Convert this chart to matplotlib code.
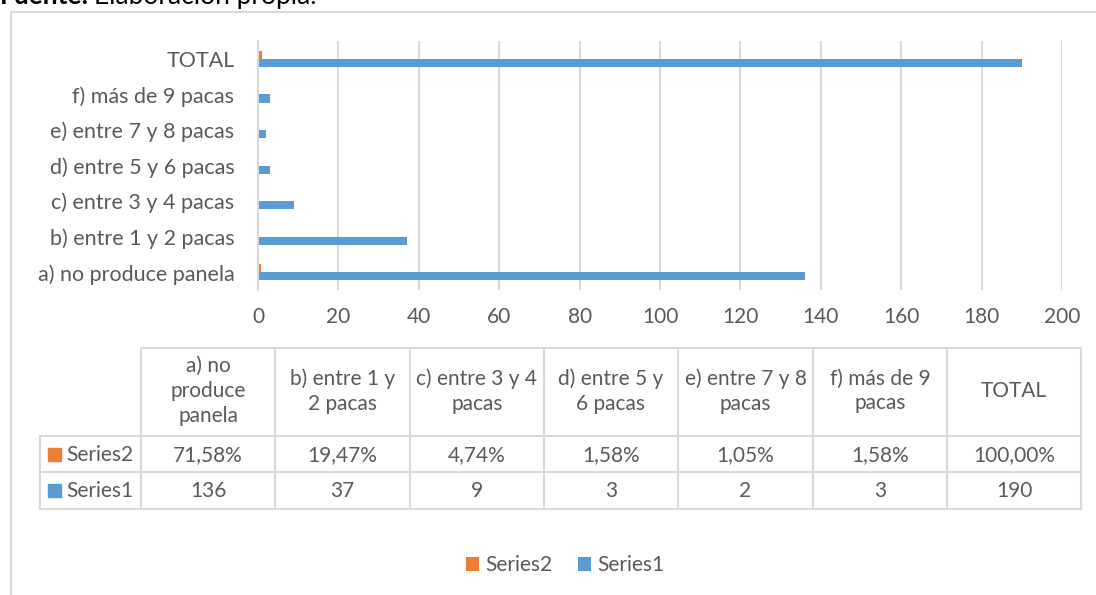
import matplotlib.pyplot as plt
import numpy as np

plt.rcParams['font.family'] = ['Lato', 'DejaVu Sans']

# data
categories = ['a) no produce panela', 'b) entre 1 y 2 pacas', 'c) entre 3 y 4 pacas',
              'd) entre 5 y 6 pacas', 'e) entre 7 y 8 pacas', 'f) más de 9 pacas', 'TOTAL']
header_labels = ['a) no\nproduce\npanela', 'b) entre 1 y\n2 pacas', 'c) entre 3 y 4\npacas',
                 'd) entre 5 y\n6 pacas', 'e) entre 7 y 8\npacas', 'f) más de 9\npacas', 'TOTAL']
series1 = [136, 37, 9, 3, 2, 3, 190]
series2 = [0.7158, 0.1947, 0.0474, 0.0158, 0.0105, 0.0158, 1.0]
series2_labels = ['71,58%', '19,47%', '4,74%', '1,58%', '1,05%', '1,58%', '100,00%']
xticks = [0, 20, 40, 60, 80, 100, 120, 140, 160, 180, 200]

blue = '#5B9BD5'
orange = '#ED7D31'
text_col = '#595959'
grid_col = '#D9D9D9'
fs = 15

W, H = 1096, 595
fig = plt.figure(figsize=(W / 100, H / 100), dpi=100)

# overlay in pixel coords for frame, table and source note
ov = fig.add_axes([0, 0, 1, 1])
ov.set_xlim(0, W)
ov.set_ylim(H, 0)
ov.axis('off')

# chart frame (runs off the right and bottom edge)
ov.plot([11, 11, W + 5], [H + 5, 12, 12], color=grid_col, lw=1.5)

# source note, cut by the top edge as in the original page crop
ov.text(0, 4, 'Fuente:', fontsize=19, fontweight='bold', color='black', va='baseline')
ov.text(94, 4, 'Elaboración propia.', fontsize=19, color='black', va='baseline')

# bar chart
ax = fig.add_axes([258 / W, 1 - 290 / H, (1062 - 258) / W, (290 - 41) / H])
y = np.arange(len(categories))
h = 0.23
b1 = ax.barh(y - h / 2, series1, height=h, color=blue, label='Series1')
b2 = ax.barh(y + h / 2, series2, height=h, color=orange, label='Series2')
ax.set_ylim(-0.5, len(categories) - 0.5)
ax.set_xlim(0, 200)
ax.set_xticks(xticks)
ax.set_yticks(y)
ax.set_yticklabels(categories)
ax.tick_params(axis='both', length=0, labelsize=fs, colors=text_col)
ax.tick_params(axis='y', labelsize=15.5, pad=17)
ax.tick_params(axis='x', pad=12)
ax.grid(axis='x', color=grid_col, lw=1.5)
ax.set_axisbelow(True)
for s in ['top', 'right', 'bottom']:
    ax.spines[s].set_visible(False)
ax.spines['left'].set_color(grid_col)
ax.spines['left'].set_linewidth(1.5)

# data table
col_edges = [40, 141, 275, 410, 544, 678, 813, 947, 1081]
row_edges = [348, 436, 472, 509]
lk = dict(color=grid_col, lw=1.5)
ov.plot([141, 1081], [348, 348], **lk)
for r in row_edges[1:]:
    ov.plot([40, 1081], [r, r], **lk)
ov.plot([40, 40], [436, 509], **lk)
for c in col_edges[1:]:
    ov.plot([c, c], [348, 509], **lk)

for i, lab in enumerate(header_labels):
    cx = (col_edges[i + 1] + col_edges[i + 2]) / 2
    ov.text(cx, 391, lab, ha='center', va='center', fontsize=fs, color=text_col, linespacing=1.3)
    ov.text(cx, 455, series2_labels[i], ha='center', va='center', fontsize=fs, color=text_col)
    ov.text(cx, 491, str(series1[i]), ha='center', va='center', fontsize=fs, color=text_col)

for yy, col, name in [(455, orange, 'Series2'), (491, blue, 'Series1')]:
    ov.add_patch(plt.Rectangle((48, yy - 7), 13, 13, color=col))
    ov.text(66, yy, name, va='center', fontsize=fs, color=text_col)

fig.legend([b2, b1], ['Series2', 'Series1'], loc='center', bbox_to_anchor=(565 / W, 1 - 565 / H),
           ncol=2, frameon=False, handlelength=0.65, handleheight=0.65, handletextpad=0.3,
           columnspacing=1.2, fontsize=fs, labelcolor=text_col)

fig.savefig('out.png', dpi=100)
